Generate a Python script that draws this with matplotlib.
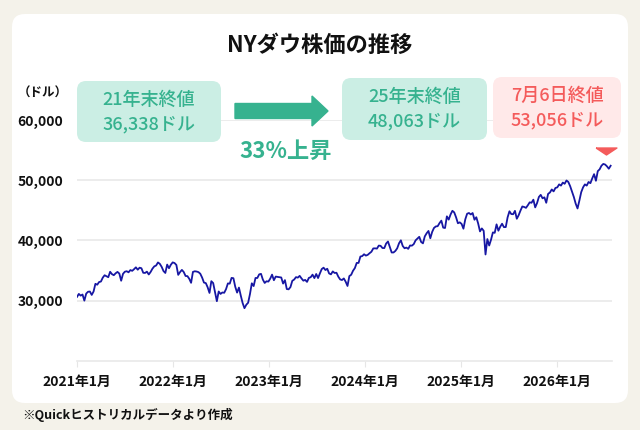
import numpy as np
import pandas as pd
import matplotlib
matplotlib.use('Agg')
import matplotlib.pyplot as plt
from matplotlib.patches import FancyBboxPatch, FancyArrow
from matplotlib.transforms import offset_copy

plt.rcParams['font.family'] = ['Noto Sans CJK JP', 'DejaVu Sans']

# weekly closes (Fridays)
dow_2021 = [30606, 31098, 30814, 31000, 29983,
            31148, 31458, 31494, 30932,
            31496, 32779, 32628, 33072,
            33153, 33800, 34200, 34043, 33875,
            34778, 34382, 34208, 34529,
            34756, 34480, 33290, 34433,
            34786, 34870, 34687, 35061, 34935,
            35208, 35515, 35120, 35455,
            35369, 34608, 34584, 34798,
            34326, 34746, 35295, 35677, 35820,
            36328, 36100, 35601, 34899,
            34580, 35971, 35365, 35950, 36338]
dow_2022 = [36231, 35911, 34265, 34725,
            35089, 34738, 34079, 34058,
            33614, 32944, 34754, 34861,
            34818, 34721, 34451, 33811, 32977,
            32899, 32196, 31262, 33213,
            32900, 31393, 29888, 31500,
            31097, 31338, 31288, 31899, 32845,
            32803, 33761, 33706, 32283,
            31318, 32151, 30822, 29590, 28726,
            29297, 29635, 31083, 32861,
            32403, 33748, 33746, 34347,
            34430, 33477, 32920, 33204, 33147]
dow_2023 = [33631, 34303, 33375, 33978,
            33926, 33869, 33827, 32817,
            33391, 31910, 31862, 32238, 33274,
            33485, 33886, 33809, 34098,
            33674, 33301, 33427, 33093,
            33763, 33877, 34299, 33727, 34408,
            33734, 34509, 35228, 35459,
            35066, 35281, 34501, 34347,
            34838, 34577, 34618, 33964, 33508,
            33407, 33670, 33127, 32418,
            34061, 34283, 34947, 35390,
            36246, 36248, 37306, 37386, 37690]
dow_2024 = [37466, 37593, 37864, 38109,
            38654, 38671, 38628, 39131,
            39087, 38723, 38715, 39476, 39807,
            38904, 37983, 37986, 38239,
            38676, 39513, 40004, 39070, 38686,
            38799, 38589, 39150, 39119,
            39376, 40001, 40288, 40589,
            39737, 39498, 40660, 41175, 41563,
            40345, 41394, 42063, 42313,
            42352, 42864, 43276, 42114,
            42052, 43989, 43445, 44297, 44911,
            44643, 43828, 42840, 42992]
dow_2025 = [42732, 41938, 43488, 44424, 44545,
            44303, 44546, 43428, 43841,
            42802, 41488, 41985, 41583,
            37650, 40213, 39142, 40114,
            41317, 41249, 42655, 41603, 42270,
            42763, 42197, 42206, 43819,
            44829, 44371, 44342, 44902,
            43589, 44176, 44946, 45631, 45545,
            45401, 45834, 46315, 46247,
            46758, 45479, 46191, 47207, 47563,
            46987, 47147, 46245, 47716,
            47955, 48458, 48135, 48711]
dow_2026 = [48800, 49300, 49100, 49600, 49400,
            49950, 49700, 49000, 48100,
            47200, 46100, 45300, 46600,
            48000, 48800, 49300, 49100,
            49700, 49500, 50300, 51000, 49900,
            51500, 51800, 52400, 52700,
            52600, 52300, 51900, 52400]
year_starts = ['2021-01-01', '2022-01-07', '2023-01-06',
               '2024-01-05', '2025-01-03', '2026-01-02']

close_2021 = 36338
close_2025 = 48063
close_latest = 53056
latest_date = '2026-07-06'
rise_label = '33%上昇'

yticks = [30000, 40000, 50000, 60000]
xtick_years = [2021, 2022, 2023, 2024, 2025, 2026]

parts = []
for start, vals in zip(year_starts, [dow_2021, dow_2022, dow_2023, dow_2024, dow_2025, dow_2026]):
    d = pd.date_range(start, periods=len(vals), freq='W-FRI')
    parts.append(pd.Series(vals, index=d))
dow = pd.concat(parts)

TEAL = '#36B28F'
TEAL_BG = '#CBEEE4'
RED = '#F45B5B'
RED_BG = '#FFE9E9'
W, H = 640, 430

fig = plt.figure(figsize=(6.4, 4.3), dpi=100)
fig.patch.set_facecolor('#F4F2EA')
inch = fig.dpi_scale_trans

panel = FancyBboxPatch((0.12, 0.27), 6.16, 3.89,
                       boxstyle='round,pad=0,rounding_size=0.13',
                       fc='white', ec='none', transform=inch, zorder=0)
fig.add_artist(panel)

ax = fig.add_axes([77 / W, 69.3 / H, 534.7 / W, 240.7 / H], zorder=1)
ax.set_facecolor('none')
ax.plot(dow.index, dow.values, color='#1717A3', lw=1.3)

ax.set_ylim(20000, 60000)
ax.set_xlim(pd.Timestamp('2021-01-01'), pd.Timestamp('2026-07-28'))
ax.set_yticks(yticks)
ax.set_yticklabels([f'{v:,}' for v in yticks])
ax.set_xticks([pd.Timestamp(f'{y}-01-01') for y in xtick_years])
ax.set_xticklabels([f'{y}年1月' for y in xtick_years])
ax.grid(axis='y', color='#E9E9E9', lw=1.2)
ax.set_axisbelow(True)
for s in ['left', 'right', 'top']:
    ax.spines[s].set_visible(False)
ax.spines['bottom'].set_color('#E9E9E9')
ax.spines['bottom'].set_linewidth(1.2)
ax.tick_params(axis='y', length=0, pad=10, labelsize=10, labelcolor='#111111')
ax.tick_params(axis='x', length=4, color='#E6E6E6', pad=6, labelsize=10, labelcolor='#111111')
for lab in ax.get_xticklabels() + ax.get_yticklabels():
    lab.set_fontweight('bold')

# marker over the latest close
tri = [(-1.5, 0.5), (1.5, 0.5), (0, -0.5), (-1.5, 0.5)]
ax.plot([pd.Timestamp(latest_date)], [close_latest], marker=tri, ms=15,
        color=RED, ls='none', clip_on=False,
        transform=offset_copy(ax.transData, fig=fig, y=8, units='points'))


def label_box(x0, y0, x1, y1, fc, tc, line1, line2):
    b = FancyBboxPatch((x0 / 100, (H - y1) / 100), (x1 - x0) / 100, (y1 - y0) / 100,
                       boxstyle='round,pad=0,rounding_size=0.09',
                       fc=fc, ec='none', transform=inch, zorder=2)
    fig.add_artist(b)
    cx = (x0 + x1) / 2 / W
    fig.text(cx, 1 - (y0 + 19) / H, line1, ha='center', va='center',
             fontsize=13, color=tc, weight='medium', zorder=3)
    fig.text(cx, 1 - (y0 + 43) / H, line2, ha='center', va='center',
             fontsize=13, color=tc, weight='medium', zorder=3)


label_box(77, 81, 221, 142, TEAL_BG, TEAL, '21年末終値', f'{close_2021:,}ドル')
label_box(342, 78, 487, 140, TEAL_BG, TEAL, '25年末終値', f'{close_2025:,}ドル')
ts = pd.Timestamp(latest_date)
label_box(493, 77, 621, 138, RED_BG, RED, f'{ts.month}月{ts.day}日終値', f'{close_latest:,}ドル')

arrow = FancyArrow(2.35, (H - 111) / 100, 0.93, 0, width=0.15, head_width=0.30,
                   head_length=0.16, length_includes_head=True,
                   color=TEAL, transform=inch, zorder=2)
fig.add_artist(arrow)
fig.text(286 / W, 1 - 151 / H, rise_label, ha='center', va='center',
         fontsize=16, color=TEAL, weight='bold', zorder=3)

fig.text(0.5, 1 - 45 / H, 'NYダウ株価の推移', ha='center', va='center',
         fontsize=16, weight='bold', color='#111111')
fig.text(43 / W, 1 - 93 / H, '（ドル）', ha='center', va='center',
         fontsize=9, weight='bold', color='#111111', zorder=3)
fig.text(22 / W, 1 - 415 / H, '※Quickヒストリカルデータより作成', ha='left', va='center',
         fontsize=9, weight='bold', color='#111111')

fig.savefig('out.png', dpi=100, facecolor=fig.get_facecolor())
